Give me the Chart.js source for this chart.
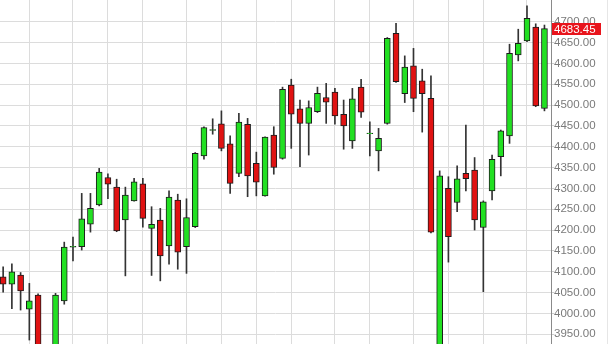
<!DOCTYPE html>
<html>
<head>
<meta charset="utf-8">
<script src="https://cdn.jsdelivr.net/npm/chart.js@4.4.1/dist/chart.umd.min.js"></script>
<style>
html,body{margin:0;padding:0;background:#fff;}
#wrap{width:616px;height:344px;position:relative;}
</style>
</head>
<body>
<div id="wrap"><canvas id="c" width="616" height="344"></canvas></div>
<script>
// Daily candles (index = trading day)
const openV  = [4088,4070,4092,4010,4044,3905,3890,4030,4159,4160,4214,4260,4326,4303,4224,4270,4311,4204,4224,4162,4272,4160,4208,4378,4439,4455,4407,4336,4454,4360,4282,4428,4372,4548,4491,4456,4484,4518,4531,4478,4414,4543,4431,4390,4456,4672,4527,4594,4558,4516,3905,4300,4266,4336,4344,4206,4294,4376,4426,4620,4654,4687,4492];
const highV  = [4112,4119,4098,4072,4047,3915,4048,4171,4183,4288,4288,4348,4335,4322,4303,4324,4324,4256,4252,4294,4286,4275,4386,4448,4467,4486,4426,4480,4468,4387,4424,4448,4543,4562,4512,4510,4543,4552,4540,4512,4540,4562,4460,4444,4662,4696,4618,4636,4586,4570,4342,4328,4354,4452,4374,4270,4380,4440,4646,4682,4738,4695,4692];
const lowV   = [4051,4011,4008,3936,3880,3850,3870,4022,4126,4152,4195,4258,4275,4196,4090,4269,4207,4091,4078,4118,4106,4096,4206,4370,4430,4390,4288,4328,4280,4282,4281,4334,4370,4396,4352,4380,4482,4456,4454,4394,4396,4470,4378,4342,4454,4554,4506,4484,4435,4193,3890,4123,4244,4294,4200,4052,4272,4330,4408,4606,4652,4496,4486];
const closeV = [4070,4100,4054,4030,3900,3880,4044,4159,4161,4227,4252,4339,4310,4198,4284,4316,4228,4214,4138,4279,4147,4230,4384,4446,4441,4396,4312,4459,4330,4315,4423,4350,4538,4478,4456,4494,4528,4507,4474,4450,4515,4483,4433,4420,4660,4556,4591,4516,4527,4195,4330,4184,4323,4323,4224,4268,4370,4438,4624,4648,4708,4498,4683.45];
const days = openV.map((_, i) => i);
// days on which a vertical grid line is drawn
const gridDays = [3, 8, 12, 16, 21, 25, 29, 33, 38, 42, 47, 51, 55, 60];
// price axis tick labels
const priceTicks = [3950,4000,4050,4100,4150,4200,4250,4300,4350,4400,4450,4500,4550,4600,4650,4700];
const lastPrice = 4683.45;

const UP = '#22e022', DOWN = '#e01212';
const bodyData = days.map(i => ({x: i, y: [openV[i], closeV[i]]}));
const wickData = days.map(i => ({x: i, y: [lowV[i], highV[i]]}));
const bodyColors = days.map(i => closeV[i] >= openV[i] ? UP : DOWN);

const FONT = {family: '"Liberation Sans", Arial, sans-serif', size: 11.5};

const priceTag = {
  id: 'priceTag',
  afterDraw(chart) {
    const ctx = chart.ctx, ys = chart.scales.y, area = chart.chartArea;
    ctx.save();
    ctx.strokeStyle = '#e6e6e6';
    ctx.lineWidth = 1;
    ctx.beginPath();
    ctx.moveTo(607.5, 0); ctx.lineTo(607.5, 344);
    ctx.stroke();
    const y = ys.getPixelForValue(lastPrice);
    ctx.fillStyle = '#e8141c';
    ctx.fillRect(area.right + 1, Math.round(y) - 6, 49, 12);
    ctx.fillStyle = '#ffffff';
    ctx.font = FONT.size + 'px ' + FONT.family;
    ctx.textBaseline = 'middle';
    ctx.textAlign = 'left';
    ctx.fillText(lastPrice.toFixed(2), area.right + 3, Math.round(y) + 0.5);
    ctx.restore();
  }
};

new Chart(document.getElementById('c'), {
  type: 'bar',
  data: {
    datasets: [
      {
        label: 'body',
        data: bodyData,
        backgroundColor: bodyColors,
        borderColor: '#1c1c1c',
        borderWidth: 1,
        borderSkipped: false,
        barThickness: 6,
        grouped: false,
        order: 0
      },
      {
        label: 'wick',
        data: wickData,
        backgroundColor: '#333333',
        borderWidth: 0,
        barThickness: 1,
        grouped: false,
        order: 1
      }
    ]
  },
  options: {
    responsive: false,
    animation: false,
    devicePixelRatio: 1,
    layout: {padding: 0},
    plugins: {legend: {display: false}, tooltip: {enabled: false}},
    scales: {
      x: {
        type: 'linear',
        min: -0.36,
        max: 62.75,
        offset: false,
        afterBuildTicks: s => { s.ticks = gridDays.map(v => ({value: v})); },
        afterFit: s => { s.height = 0; s.paddingLeft = 0; s.paddingRight = 0; },
        grid: {color: '#dcdcdc', lineWidth: 1, drawTicks: false, offset: false},
        border: {display: false},
        ticks: {display: false}
      },
      y: {
        position: 'right',
        min: 3926.5,
        max: 4752.1,
        afterBuildTicks: s => { s.ticks = priceTicks.map(v => ({value: v})); },
        afterFit: s => { s.width = 65; s.paddingTop = 0; s.paddingBottom = 0; },
        grid: {color: '#dcdcdc', lineWidth: 1, tickLength: 3, tickColor: '#cccccc'},
        border: {display: true, color: '#8a8a8a', width: 1},
        ticks: {
          color: '#7a7a7a',
          font: FONT,
          padding: 0,
          callback: v => Number(v).toFixed(2)
        }
      }
    }
  },
  plugins: [priceTag]
});
</script>
</body>
</html>
